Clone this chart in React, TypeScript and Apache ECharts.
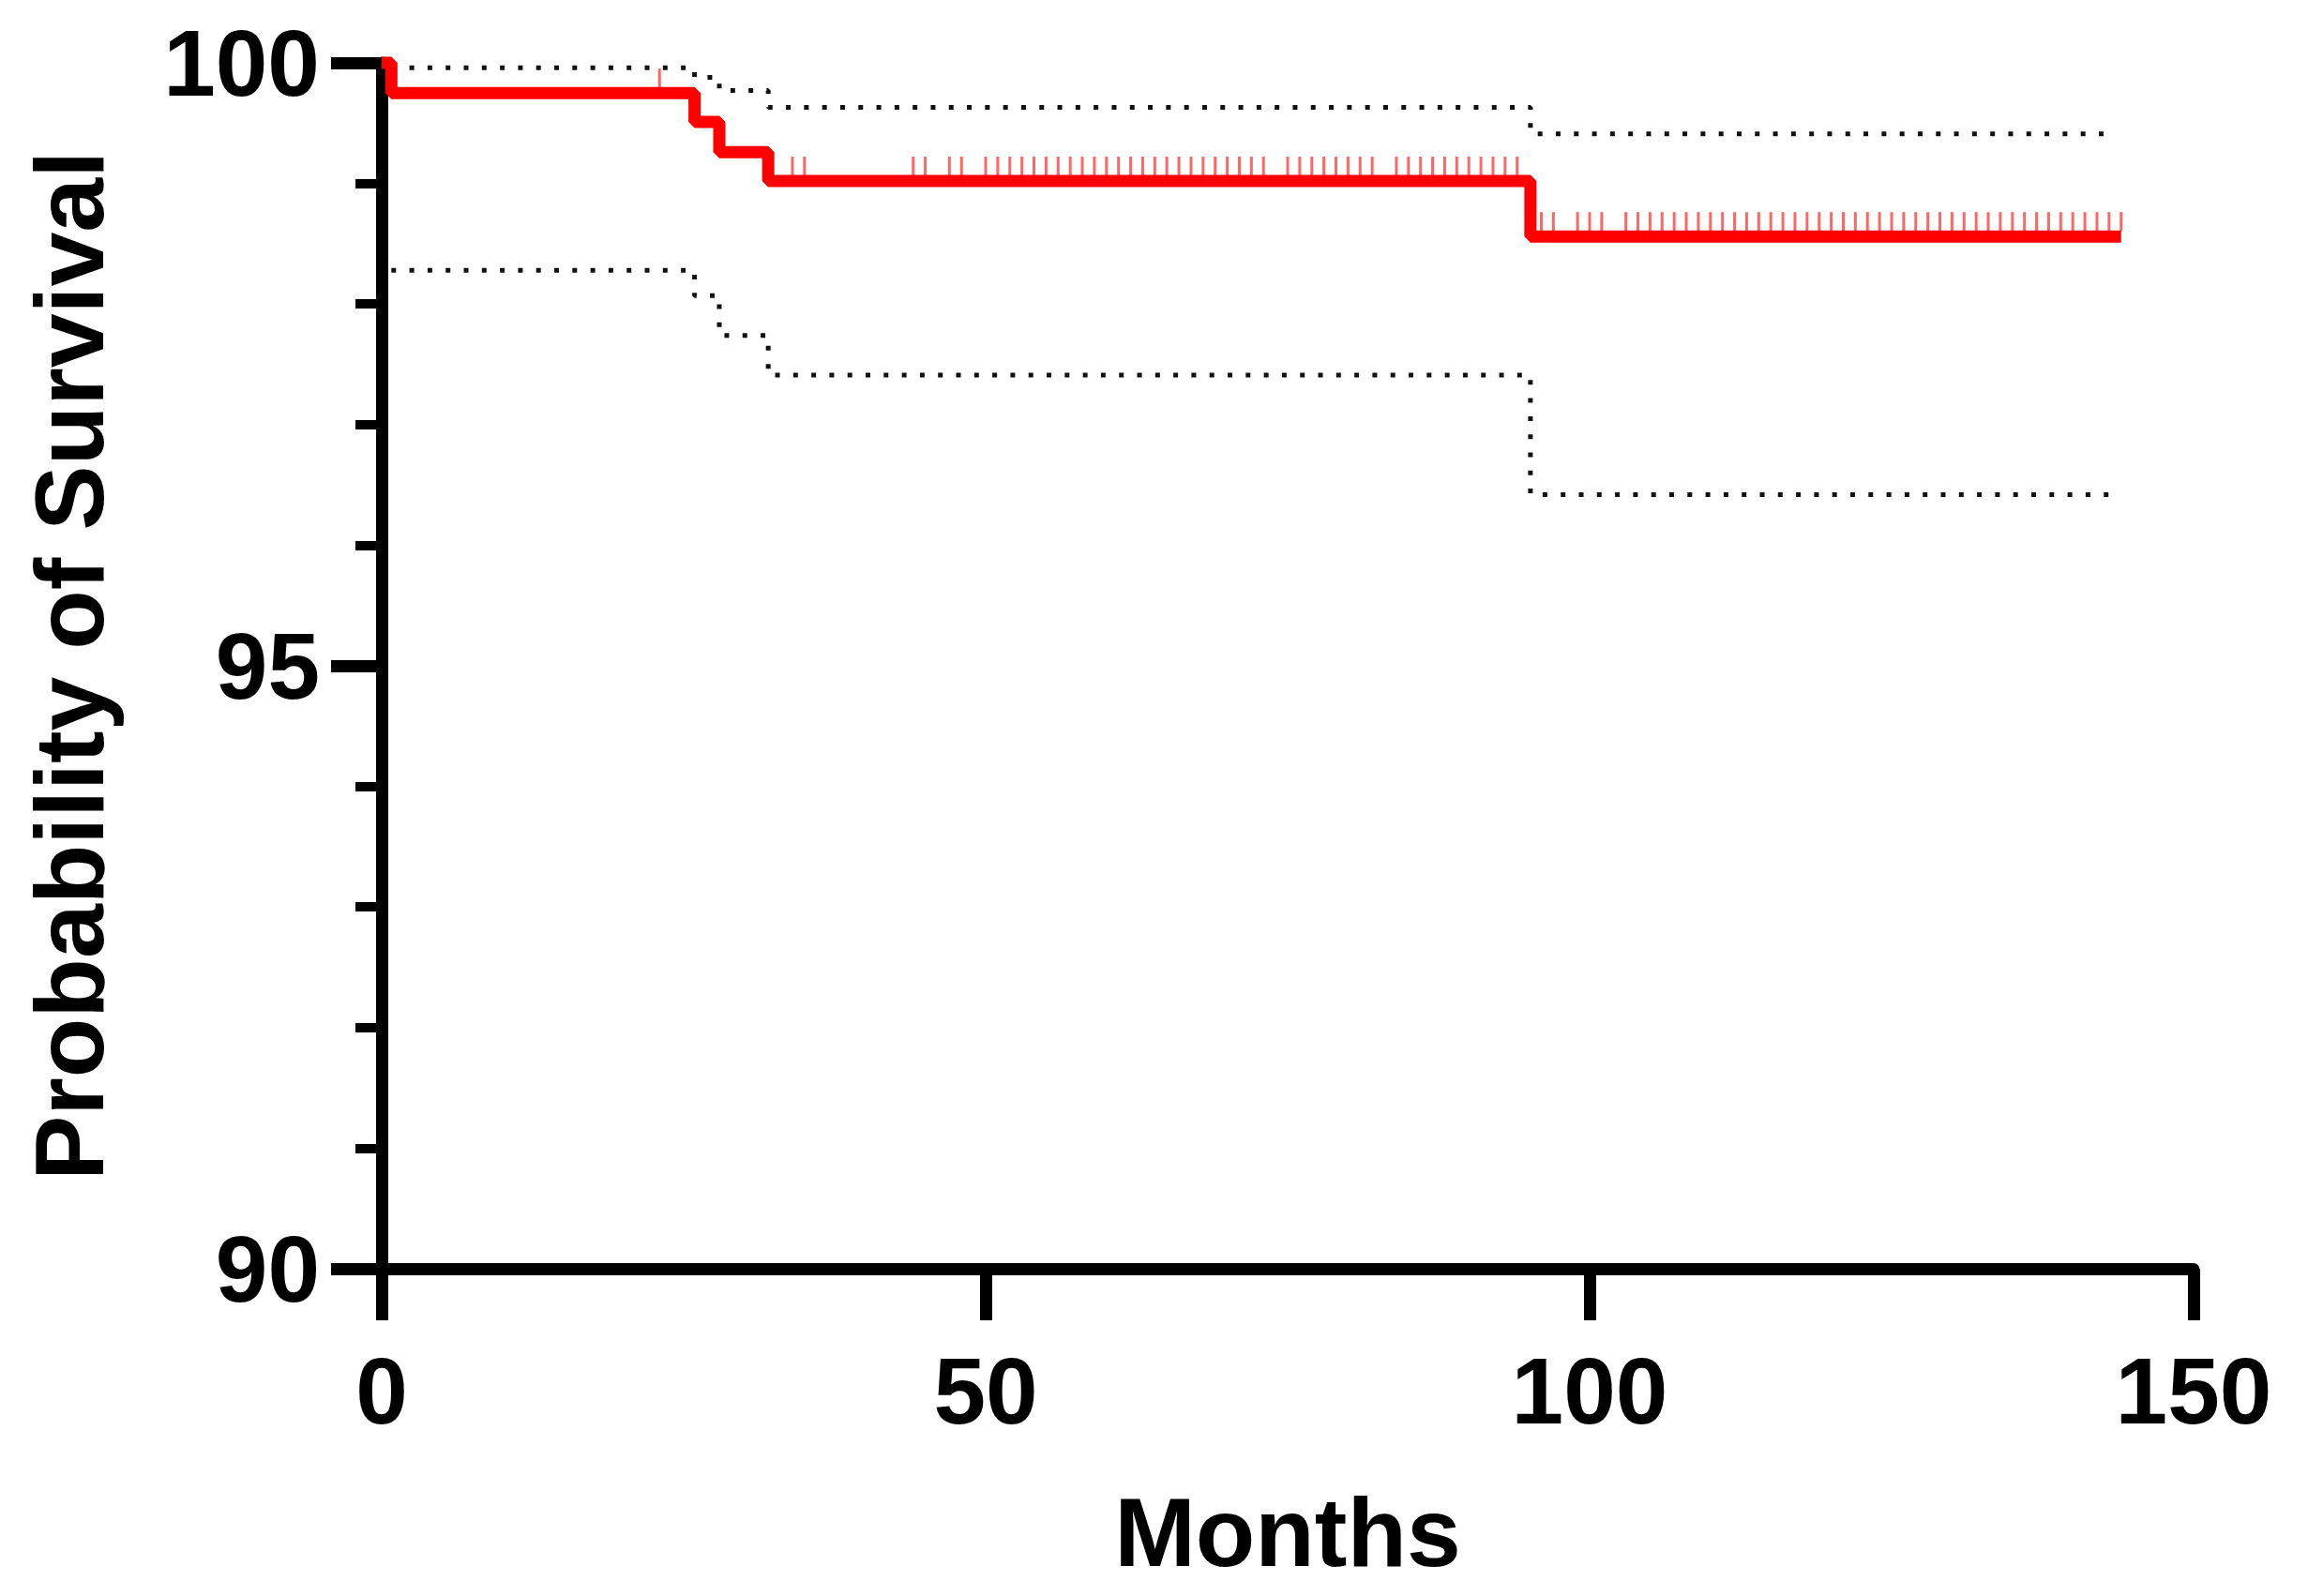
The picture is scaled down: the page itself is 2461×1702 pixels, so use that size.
import { useEffect, useRef } from 'react';
import * as echarts from 'echarts';

const FONT = '"Liberation Sans", Arial, Helvetica, sans-serif';

// Kaplan-Meier steps (months, % survival)
const eventMonths = [0, 0.8, 25.9, 27.95, 32.0, 95.1, 144];
const survival = [100, 99.75, 99.51, 99.26, 99.02, 98.56, 98.56];

// 95% confidence band
const ciMonths = [0.8, 25.9, 27.95, 32.0, 95.1, 143];
const upperCI = [99.96, 99.88, 99.77, 99.63, 99.41, 99.41];
const lowerCI = [98.28, 98.07, 97.74, 97.41, 96.42, 96.42];

// censored observations
const censoredMonths = [
  23,
  34, 35, 44, 45, 47, 48, 50, 51, 52, 53, 54, 55, 56, 57, 58, 59, 60, 61, 62,
  63, 64, 65, 66, 67, 68, 69, 70, 71, 72, 73, 75, 76, 77, 78, 79, 80, 81, 82,
  84, 85, 86, 87, 88, 89, 90, 91, 92, 93, 94,
  96, 97, 99, 100, 101, 103, 104, 105, 106, 107, 108, 109, 110, 111, 112, 113,
  114, 115, 116, 117, 118, 119, 120, 121, 122, 123, 124, 125, 126, 127, 128,
  129, 130, 131, 132, 133, 134, 135, 136, 137, 138, 139, 140, 141, 142, 143, 144,
];

const xTicks = { min: 0, max: 150, interval: 50 };
const yTicks = { min: 90, max: 100, interval: 5 };

const levelAt = (t: number) => {
  let v = survival[0];
  eventMonths.forEach((m, i) => {
    if (m <= t) v = survival[i];
  });
  return v;
};

const App: React.FC = () => {
  const chartRef = useRef<HTMLDivElement>(null);

  useEffect(() => {
    if (!chartRef.current) return;
    document.body.style.margin = '0';

    const mychart = echarts.init(chartRef.current, null, { renderer: 'svg' });

    const axisText = { color: '#000', fontFamily: FONT, fontWeight: 'bold' as const };

    const option = {
      animation: false,
      grid: { left: 407, right: 122, top: 67, bottom: 349, containLabel: false },
      xAxis: {
        type: 'value',
        ...xTicks,
        name: 'Months',
        nameLocation: 'middle',
        nameGap: 229,
        nameTextStyle: { ...axisText, fontSize: 104 },
        axisLine: { show: true, lineStyle: { color: '#000', width: 13 } },
        axisTick: { show: true, length: 55, lineStyle: { color: '#000', width: 13 } },
        axisLabel: { ...axisText, fontSize: 100, margin: 80 },
        splitLine: { show: false },
      },
      yAxis: {
        type: 'value',
        ...yTicks,
        name: 'Probability of Survival',
        nameLocation: 'middle',
        nameRotate: 90,
        nameGap: 281,
        nameTextStyle: { ...axisText, fontSize: 104 },
        axisLine: { show: true, lineStyle: { color: '#000', width: 13 } },
        axisTick: { show: true, length: 54, lineStyle: { color: '#000', width: 13 } },
        minorTick: { show: true, splitNumber: 5, length: 28, lineStyle: { color: '#000', width: 10 } },
        axisLabel: { ...axisText, fontSize: 100, margin: 66 },
        splitLine: { show: false },
        minorSplitLine: { show: false },
      },
      series: [
        {
          type: 'line',
          step: 'end',
          symbol: 'none',
          clip: false,
          lineStyle: { color: '#111', width: 5, type: [5, 14.3] },
          data: ciMonths.map((m, i) => [m, upperCI[i]]),
        },
        {
          type: 'line',
          step: 'end',
          symbol: 'none',
          clip: false,
          lineStyle: { color: '#111', width: 5, type: [5, 14.3] },
          data: ciMonths.map((m, i) => [m, lowerCI[i]]),
        },
        {
          type: 'line',
          step: 'end',
          symbol: 'none',
          clip: false,
          z: 3,
          lineStyle: { color: '#ff0000', width: 13 },
          data: eventMonths.map((m, i) => [m, survival[i]]),
        },
        {
          type: 'scatter',
          symbol: 'rect',
          symbolSize: [3, 20],
          symbolOffset: [0, -16],
          clip: false,
          z: 4,
          itemStyle: { color: 'rgba(255,0,0,0.75)' },
          data: censoredMonths.map((m) => [m, levelAt(m)]),
        },
      ],
    };
    mychart.setOption(option as any);

    const handleResize = () => {
      mychart.resize();
    };
    window.addEventListener('resize', handleResize);

    return () => {
      window.removeEventListener('resize', handleResize);
      if (!mychart.isDisposed()) {
        mychart.dispose();
      }
    };
  }, []);

  return <div ref={chartRef} style={{ width: '2461px', height: '1702px' }}></div>;
};

export default App;
